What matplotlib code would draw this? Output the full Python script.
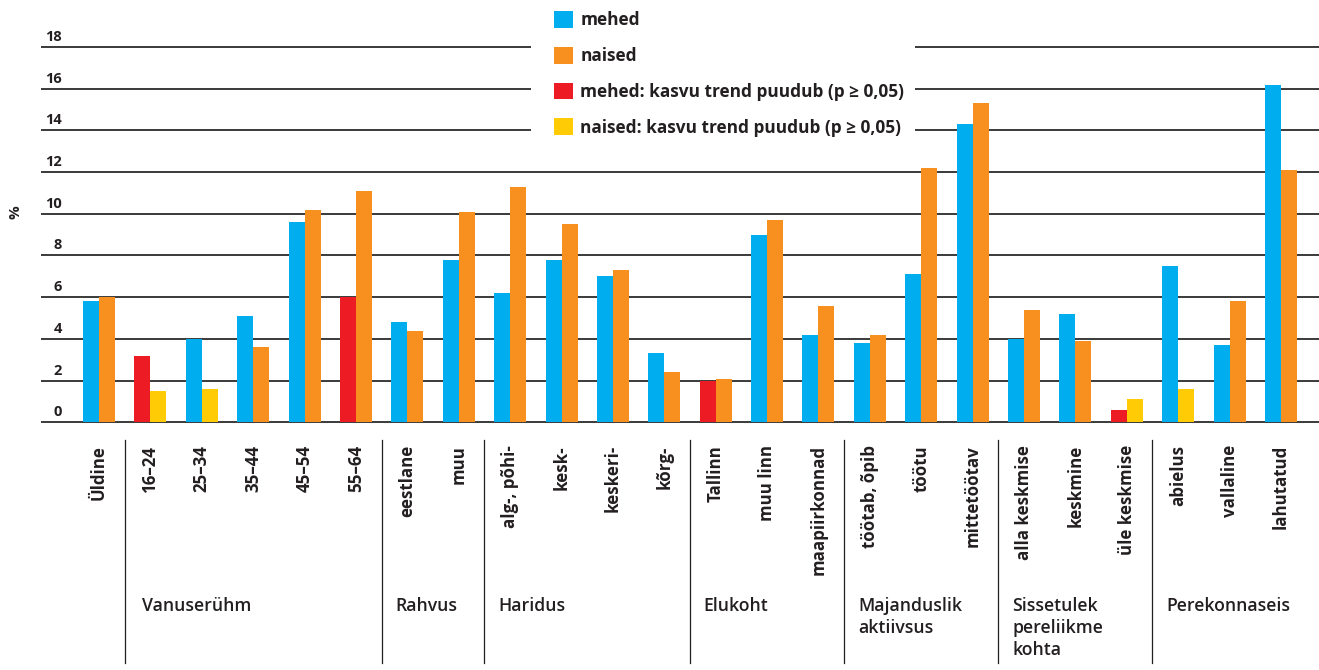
import matplotlib
matplotlib.use("Agg")
import matplotlib.pyplot as plt
import matplotlib.transforms as mtransforms
from matplotlib.patches import Patch, Rectangle
import numpy as np

# andmed
categories = ["Üldine", "16–24", "25–34", "35–44", "45–54", "55–64",
              "eestlane", "muu",
              "alg-, põhi-", "kesk-", "keskeri-", "kõrg-",
              "Tallinn", "muu linn", "maapiirkonnad",
              "töötab, õpib", "töötu", "mittetöötav",
              "alla keskmise", "keskmine", "üle keskmise",
              "abielus", "vallaline", "lahutatud"]
mehed = [5.8, 3.2, 4.0, 5.1, 9.6, 6.0, 4.8, 7.8, 6.2, 7.8, 7.0, 3.3,
         2.0, 9.0, 4.2, 3.8, 7.1, 14.3, 4.0, 5.2, 0.6, 7.5, 3.7, 16.2]
naised = [6.0, 1.5, 1.6, 3.6, 10.2, 11.1, 4.4, 10.1, 11.3, 9.5, 7.3, 2.4,
          2.1, 9.7, 5.6, 4.2, 12.2, 15.3, 5.4, 3.9, 1.1, 1.6, 5.8, 12.1]
# kasvu trend puudub (p >= 0,05)
mehed_no_trend = ["16–24", "55–64", "Tallinn", "üle keskmise"]
naised_no_trend = ["16–24", "25–34", "üle keskmise", "abielus"]

group_names = ["", "Vanuserühm", "Rahvus", "Haridus", "Elukoht",
               "Majanduslik\naktiivsus", "Sissetulek\npereliikme\nkohta", "Perekonnaseis"]
group_sizes = [1, 5, 2, 4, 3, 3, 3, 3]

yticks = list(range(0, 19, 2))

legend_labels = ["mehed", "naised",
                 "mehed: kasvu trend puudub (p ≥ 0,05)",
                 "naised: kasvu trend puudub (p ≥ 0,05)"]

BLUE = "#00AEEF"
ORANGE = "#F7901E"
RED = "#ED1C24"
YELLOW = "#FFCB05"
TXT = "#231F20"
FONT = ["Open Sans", "DejaVu Sans"]

plt.rcParams["font.family"] = FONT

W, H = 1319, 670
fig = plt.figure(figsize=(W / 100, H / 100), dpi=100)

# pikslid -> andmeteljed
x0_px, step_px = 99, 51.39
ax_left_px = 41
ymin, ymax = -0.2, 18.2
px_per_unit = 20.85
zero_px = 422.3
bot_px = zero_px + (0 - ymin) * px_per_unit
top_px = zero_px - ymax * px_per_unit
ax = fig.add_axes([ax_left_px / W, 1 - bot_px / H, 1 - ax_left_px / W, (bot_px - top_px) / H])
ax.set_xlim((ax_left_px - x0_px) / step_px, (W - x0_px) / step_px)
ax.set_ylim(ymin, ymax)

x = np.arange(len(categories))
bw = 16 / step_px
m_colors = [RED if c in mehed_no_trend else BLUE for c in categories]
n_colors = [YELLOW if c in naised_no_trend else ORANGE for c in categories]
ax.bar(x - bw / 2, mehed, width=bw, color=m_colors, zorder=3)
ax.bar(x + bw / 2, naised, width=bw, color=n_colors, zorder=3)

# ruudustik
ax.set_yticks(yticks)
ax.yaxis.grid(True, color="#3a3a3a", linewidth=1.4)
ax.set_axisbelow(True)
ax.tick_params(axis="y", length=0, labelleft=False)
for v in yticks:
    ax.text((62 - x0_px) / step_px, v + 0.29, str(v), ha="right", va="baseline",
            fontsize=10.5, fontweight="bold", color=TXT)
for s in ax.spines.values():
    s.set_visible(False)

ax.set_xticks(x)
ax.set_xticklabels(categories, rotation=90, va="top", ha="center",
                   fontsize=12.2, fontweight="bold", color=TXT)
ax.tick_params(axis="x", length=0, pad=13.5)

fig.text(16 / W, 1 - 212 / H, "%", rotation=90, ha="center", va="center",
         fontsize=11, fontweight="bold", color=TXT)

# grupid
tr = mtransforms.blended_transform_factory(ax.transData, fig.transFigure)
edges = np.cumsum(group_sizes) - 0.5
for e in edges[:-1]:
    ax.plot([e, e], [1 - 440 / H, 1 - 663 / H], color=TXT, linewidth=0.9,
            transform=tr, clip_on=False)
starts = np.concatenate([[-0.5], edges[:-1]])
for i, (name, s) in enumerate(zip(group_names, starts)):
    if name:
        off = 0.34 if i == 1 else 0.27
        ax.text(s + off, 1 - 597 / H, name, transform=tr, ha="left", va="top",
                fontsize=12.7, fontweight="semibold", color=TXT, linespacing=1.3)

# legend
ax.add_patch(Rectangle((531 / W, 1 - 150 / H), (915 - 531) / W, 150 / H,
                       transform=fig.transFigure, facecolor="white", edgecolor="none",
                       zorder=2, clip_on=False))
handles = [Patch(facecolor=c, edgecolor="none") for c in [BLUE, ORANGE, RED, YELLOW]]
fig.legend(handles, legend_labels, loc="upper left", bbox_to_anchor=(554 / W, 1 - 11 / H),
           frameon=False, borderpad=0, borderaxespad=0, handlelength=1.12, handleheight=1.12,
           handletextpad=0.4, labelspacing=1.02,
           prop={"family": FONT, "weight": "bold", "size": 12.4}, labelcolor=TXT)

fig.savefig("out.png", dpi=100)
